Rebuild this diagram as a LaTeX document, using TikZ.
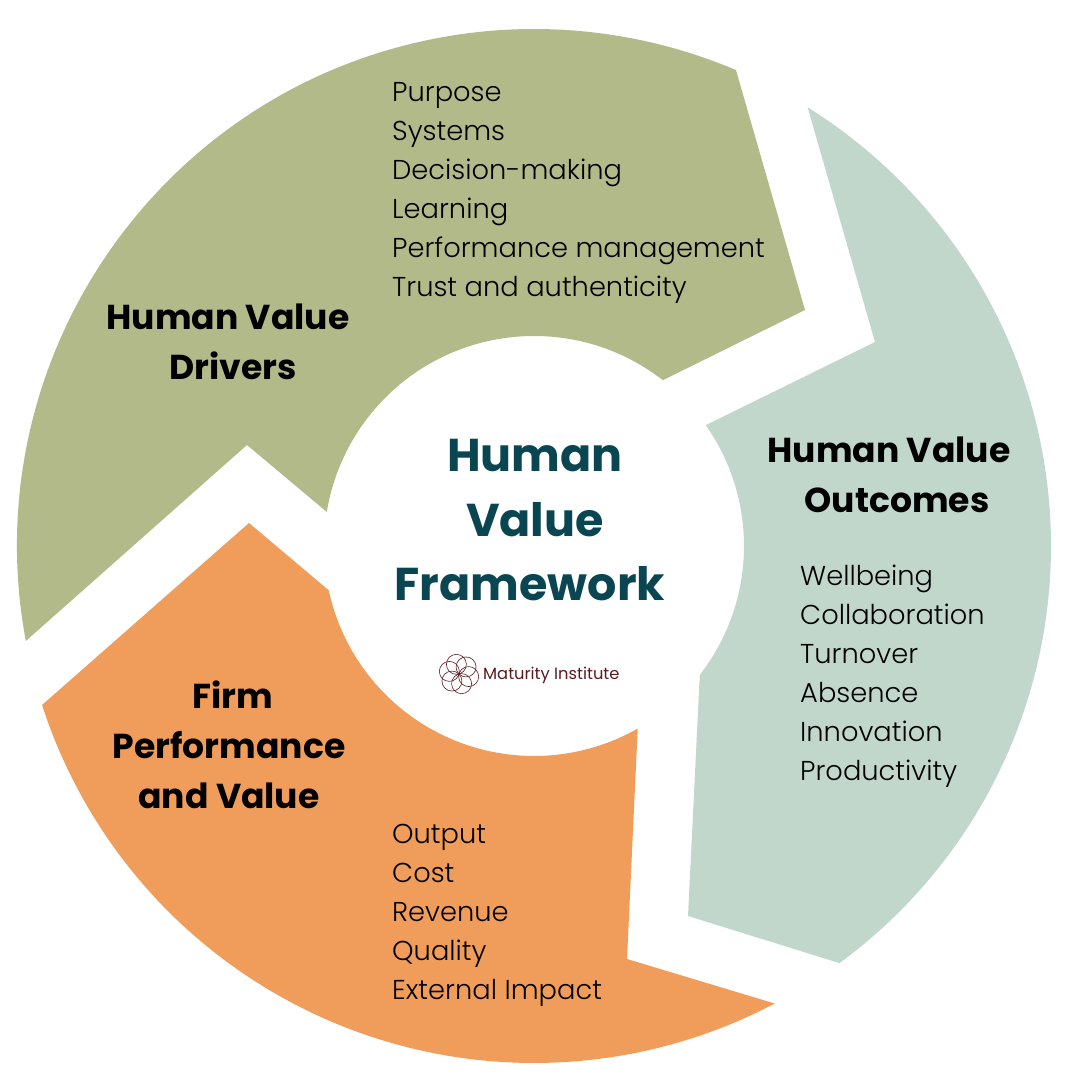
\documentclass[tikz,border=0pt]{standalone}
\usepackage{fontspec}
\usetikzlibrary{calc}
\setmainfont{Poppins}
\newfontfamily\listfont{Poppins Light}
\definecolor{greenseg}{HTML}{B3BA8A}
\definecolor{tealseg}{HTML}{C2D7CC}
\definecolor{orangeseg}{HTML}{F09C5B}
\definecolor{titlecol}{HTML}{0A4552}
\definecolor{logocol}{HTML}{5A1A20}
\tikzset{
  seg/.style={draw=none},
  itemlist/.style={anchor=north west,align=left,inner sep=0pt,text=black,font=\listfont\fontsize{27.3}{39}\selectfont},
  headtext/.style={align=center,inner sep=0pt,text=black,font=\bfseries\fontsize{34.6}{50}\selectfont},
  titletext/.style={align=center,inner sep=0pt,text=titlecol,font=\bfseries\fontsize{46}{64.5}\selectfont},
  petal/.style={draw=logocol,line width=0.6pt},
  logotext/.style={anchor=west,inner sep=0pt,text=logocol,font=\fontsize{16.3}{18}\selectfont}
}
\begin{document}
\begin{tikzpicture}[x=1pt,y=1pt]
\useasboundingbox (0,0) rectangle (1080,1080);
\coordinate (C) at (534,534);
\fill[seg,greenseg] ($(C)+(190.59:517)$) arc[start angle=190.59,end angle=67,radius=517pt]
  -- (805,770) -- ($(C)+(52.15:210)$) arc[start angle=52.15,end angle=170.67,radius=210pt]
  -- (247,635) -- cycle;
\fill[seg,tealseg] ($(C)+(58.04:517)$) arc[start angle=58.04,end angle=-53.79,radius=517pt]
  -- (688,164) -- ($(C)+(-37.85:210)$) arc[start angle=-37.85,end angle=35.13,radius=210pt]
  -- (875,738) -- cycle;
\fill[seg,orangeseg] ($(C)+(-62.25:517)$) arc[start angle=-62.25,end angle=-162.09,radius=517pt]
  -- (249,557) -- ($(C)+(-167.83:210)$) arc[start angle=-167.83,end angle=-60.4,radius=210pt]
  -- (627,121) -- cycle;
\node[itemlist] (drivers) at (392,998) {Purpose\\Systems\\Decision-making\\Learning\\Performance management\\Trust and authenticity};
\node[itemlist] (outcomes) at (800,515) {Wellbeing\\Collaboration\\Turnover\\Absence\\Innovation\\Productivity};
\node[itemlist] (firm) at (392,256) {Output\\Cost\\Revenue\\Quality\\External Impact};
\node[headtext] (h1) at (228,738) {Human Value\\\hspace*{10pt}Drivers};
\node[headtext] (h2) at (889,605) {Human Value\\\hspace*{16pt}Outcomes};
\node[headtext] (h3) at (229,335) {\hspace*{8pt}Firm\\Performance\\and Value};
\node[titletext] (title) at (530,559.5) {\hspace*{10pt}Human\\\hspace*{10pt}Value\\Framework};
\coordinate (L) at (459,406);
\foreach \a in {45,105,165,225,285,345}{
  \draw[petal] ($(L)+(\a:10)$) circle[radius=10pt];
}
\node[logotext] (logo) at (483,404.5) {Maturity Institute};
\end{tikzpicture}
\end{document}
